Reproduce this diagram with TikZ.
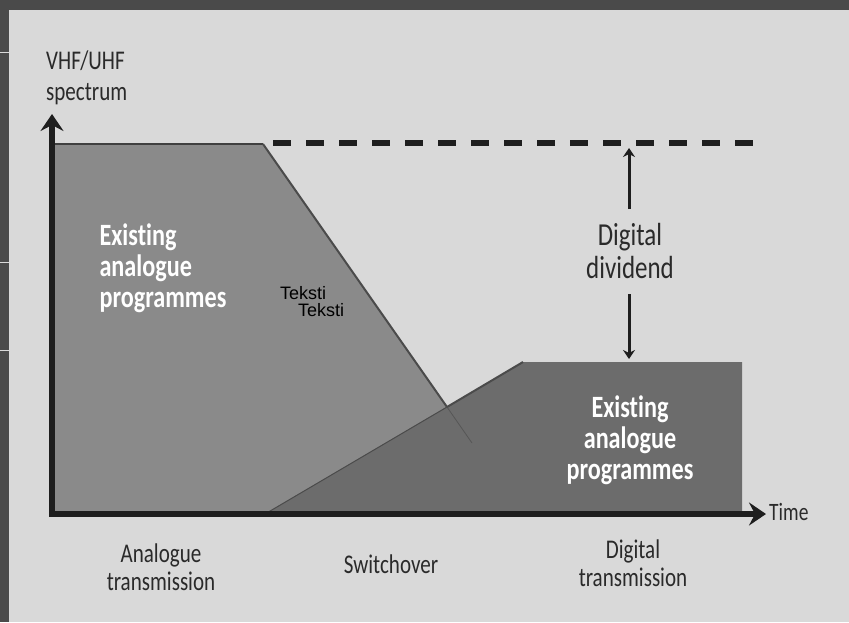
\documentclass[tikz,border=0pt]{standalone}
\usepackage{fontspec}
\setmainfont{Carlito}[FakeStretch=0.78, RawFeature={-liga}]
\newfontfamily\arialfont{Liberation Sans}
\usetikzlibrary{arrows.meta}

\definecolor{bggray}{HTML}{D9D9D9}
\definecolor{framegray}{HTML}{4A4A4A}
\definecolor{leftgray}{HTML}{8A8A8A}
\definecolor{rightgray}{HTML}{6C6C6C}
\definecolor{inkgray}{HTML}{1E1E1E}
\definecolor{labelgray}{HTML}{2A2A2A}

\tikzset{
  axisline/.style={line width=6pt, draw=inkgray,
    {Stealth[length=17pt,width=23pt,inset=6pt]}-{Stealth[length=17pt,width=23pt,inset=6pt]}},
  dimarrow/.style={line width=3pt, draw=inkgray,
    -{Stealth[length=9pt,width=12pt,inset=3pt]}},
  dividerline/.style={line width=6pt, draw=inkgray, dash pattern=on 18pt off 15pt},
  edgeline/.style={line width=2pt, draw=inkgray!80},
  whitelbl/.style={text=white, font=\bfseries\fontsize{31}{31}\selectfont},
  graylbl/.style={text=labelgray, font=\fontsize{27}{28}\selectfont, align=center, inner sep=0pt},
  tekstlbl/.style={text=black, font=\arialfont\fontsize{18}{18}\selectfont, inner sep=0pt, anchor=west}
}

\begin{document}
\begin{tikzpicture}[x=1pt,y=-1pt]
  % page and frame
  \useasboundingbox (0,0) rectangle (849,622);
  \fill[bggray] (0,0) rectangle (849,622);
  \fill[framegray] (0,0) rectangle (849,10);
  \fill[framegray] (0,0) rectangle (9,622);
  \foreach \yy in {52,262,350}
    \draw[line width=1pt, white!85!black] (0,\yy) -- (9,\yy);

  % axis corner points
  \coordinate (origin) at (52,514);
  \coordinate (ytip) at (52,114);
  \coordinate (xtip) at (766,514);

  % analogue share of the spectrum
  \fill[leftgray] (52,144) -- (263,144) -- (522,514) -- (52,514) -- cycle;
  \draw[line width=1.5pt, inkgray!85] (55,144) -- (263,144);
  \draw[edgeline] (263,144) -- (447,407);

  % digital share of the spectrum
  \fill[rightgray] (265,514) -- (523,362) -- (742,362) -- (742,514) -- cycle;
  \draw[line width=1pt, rightgray!70!black] (265,514) -- (447,407);
  \draw[line width=0.8pt, rightgray!80!black] (447,407) -- (472,443);
  \draw[edgeline] (447,407) -- (523,362);

  % axes
  \draw[axisline] (ytip) -- (origin) -- (xtip);

  % spectrum ceiling
  \coordinate (dashstart) at (273,143);
  \coordinate (dashend) at (766,143);
  \draw[dividerline] (dashstart) -- (dashend);

  % labels inside the areas
  \node[whitelbl, align=left, anchor=west] (leftprog) at (96,268) {Existing\\analogue\\programmes};
  \node[whitelbl, align=center] (rightprog) at (630,440) {Existing\\analogue\\programmes};
  \node[tekstlbl] (teksta) at (280,293) {Teksti};
  \node[tekstlbl] (tekstb) at (298,310) {Teksti};

  % digital dividend marker
  \node[graylbl, font=\fontsize{32}{33}\selectfont] (dividend) at (630,251) {Digital\\dividend};
  \coordinate (ceiling) at (629,148);
  \coordinate (floor) at (629,359);
  \coordinate (gaptop) at (629,209);
  \coordinate (gapbottom) at (629,294);
  \draw[dimarrow] (gaptop) -- (ceiling);
  \draw[dimarrow] (gapbottom) -- (floor);

  % axis titles
  \node[graylbl, align=left, anchor=west, font=\fontsize{27}{31}\selectfont] (ytitle) at (46,78) {VHF/UHF\\spectrum};
  \node[graylbl, anchor=west, font=\fontsize{25}{28}\selectfont] (xtitle) at (769,512) {Time};

  % phase labels
  \node[graylbl] (analogue) at (161,567) {Analogue\\transmission};
  \node[graylbl] (switch) at (391,564) {Switchover};
  \node[graylbl] (digital) at (633,563) {Digital\\transmission};
\end{tikzpicture}
\end{document}
